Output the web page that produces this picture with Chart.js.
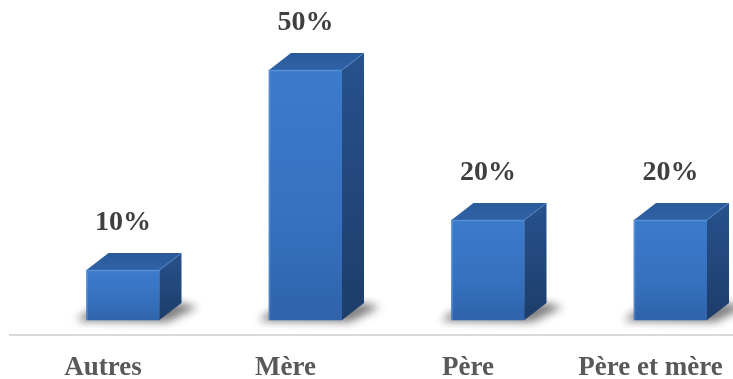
<!DOCTYPE html>
<html><head><meta charset="utf-8">
<script src="https://cdn.jsdelivr.net/npm/chart.js@4/dist/chart.umd.min.js"></script>
<style>html,body{margin:0;padding:0;background:#fff;overflow:hidden}canvas{display:block}</style>
</head><body>
<canvas id="c" width="733" height="379"></canvas>
<script>
const categories = ['Autres', 'Mère', 'Père', 'Père et mère'];
const values = [10, 50, 20, 20];
const valueLabels = ['10%', '50%', '20%', '20%'];

const DX = 22, DY = 17;
const SERIF = '"Liberation Serif", "Times New Roman", serif';

const bar3d = {
  id: 'bar3d',
  beforeDatasetsDraw(chart) {
    const ctx = chart.ctx;
    const meta = chart.getDatasetMeta(0);
    const zero = chart.scales.y.getPixelForValue(0);
    ctx.save();
    ctx.strokeStyle = '#d9d9d9';
    ctx.lineWidth = 2;
    ctx.beginPath();
    ctx.moveTo(9, zero + 15);
    ctx.lineTo(chart.width, zero + 15);
    ctx.stroke();
    meta.data.forEach(b => {
      const l = b.x - b.width / 2, r = b.x + b.width / 2, base = b.base;
      ctx.save();
      ctx.filter = 'blur(4px)';
      ctx.fillStyle = 'rgba(0,0,0,0.5)';
      ctx.beginPath();
      ctx.moveTo(l - 10, base + 1);
      ctx.lineTo(r + 8, base + 2);
      ctx.lineTo(r + DX + 16, base - DY + 4);
      ctx.lineTo(r + DX, base - DY);
      ctx.lineTo(l, base - 8);
      ctx.closePath();
      ctx.fill();
      ctx.restore();
    });
    ctx.restore();
  },
  afterDatasetsDraw(chart) {
    const ctx = chart.ctx;
    const meta = chart.getDatasetMeta(0);
    ctx.save();
    meta.data.forEach((b, i) => {
      const l = b.x - b.width / 2, r = b.x + b.width / 2, top = b.y, base = b.base;
      let g = ctx.createLinearGradient(0, top - DY, 0, base);
      g.addColorStop(0, '#27528d');
      g.addColorStop(1, '#1d3d6a');
      ctx.fillStyle = g;
      ctx.beginPath();
      ctx.moveTo(r, top); ctx.lineTo(r + DX, top - DY);
      ctx.lineTo(r + DX, base - DY); ctx.lineTo(r, base);
      ctx.closePath(); ctx.fill();
      g = ctx.createLinearGradient(0, top - DY, 0, top);
      g.addColorStop(0, '#2a5a99');
      g.addColorStop(1, '#2f62a6');
      ctx.fillStyle = g;
      ctx.beginPath();
      ctx.moveTo(l, top); ctx.lineTo(l + DX, top - DY);
      ctx.lineTo(r + DX, top - DY); ctx.lineTo(r, top);
      ctx.closePath(); ctx.fill();
      ctx.strokeStyle = 'rgba(120,170,230,0.45)';
      ctx.lineWidth = 1.5;
      ctx.beginPath();
      ctx.moveTo(l + 0.5, base); ctx.lineTo(l + 0.5, top + 0.5); ctx.lineTo(r, top + 0.5);
      ctx.stroke();
      ctx.strokeStyle = 'rgba(90,140,210,0.35)';
      ctx.beginPath();
      ctx.moveTo(r, top); ctx.lineTo(r + DX, top - DY);
      ctx.stroke();
      ctx.fillStyle = '#404040';
      ctx.font = 'bold 28px ' + SERIF;
      ctx.textAlign = 'center';
      ctx.textBaseline = 'alphabetic';
      ctx.fillText(valueLabels[i], b.x, top - 40);
    });
    ctx.restore();
  }
};

function frontColor(c) {
  const chart = c.chart;
  const ys = chart.scales && chart.scales.y;
  if (!ys || c.raw === undefined) return '#3872c0';
  const t = ys.getPixelForValue(c.raw), bse = ys.getPixelForValue(0);
  if (!isFinite(t) || !isFinite(bse)) return '#3872c0';
  const g = chart.ctx.createLinearGradient(0, t, 0, bse);
  g.addColorStop(0, '#3c7bcb');
  g.addColorStop(0.6, '#3671bf');
  g.addColorStop(1, '#2f63aa');
  return g;
}

new Chart(document.getElementById('c'), {
  type: 'bar',
  data: {
    labels: categories,
    datasets: [{
      data: values,
      backgroundColor: frontColor,
      borderWidth: 0,
      barThickness: 73,
      clip: false
    }]
  },
  options: {
    responsive: false,
    devicePixelRatio: 1,
    animation: false,
    layout: { autoPadding: false, padding: { left: 123, right: 62.5, top: 20, bottom: 0 } },
    plugins: { legend: { display: false }, tooltip: { enabled: false } },
    scales: {
      x: {
        offset: false,
        grid: { display: false, drawTicks: false },
        border: { display: false },
        ticks: {
          padding: 32,
          labelOffset: -20,
          maxRotation: 0,
          autoSkip: false,
          color: '#595959',
          font: { family: SERIF, size: 27, weight: 'bold', lineHeight: 1.2 }
        },
        afterFit(s) { s.height = 59; s.paddingLeft = 0; s.paddingRight = 0; }
      },
      y: { display: false, min: 0, max: 60 }
    }
  },
  plugins: [bar3d]
});
</script>
</body></html>
